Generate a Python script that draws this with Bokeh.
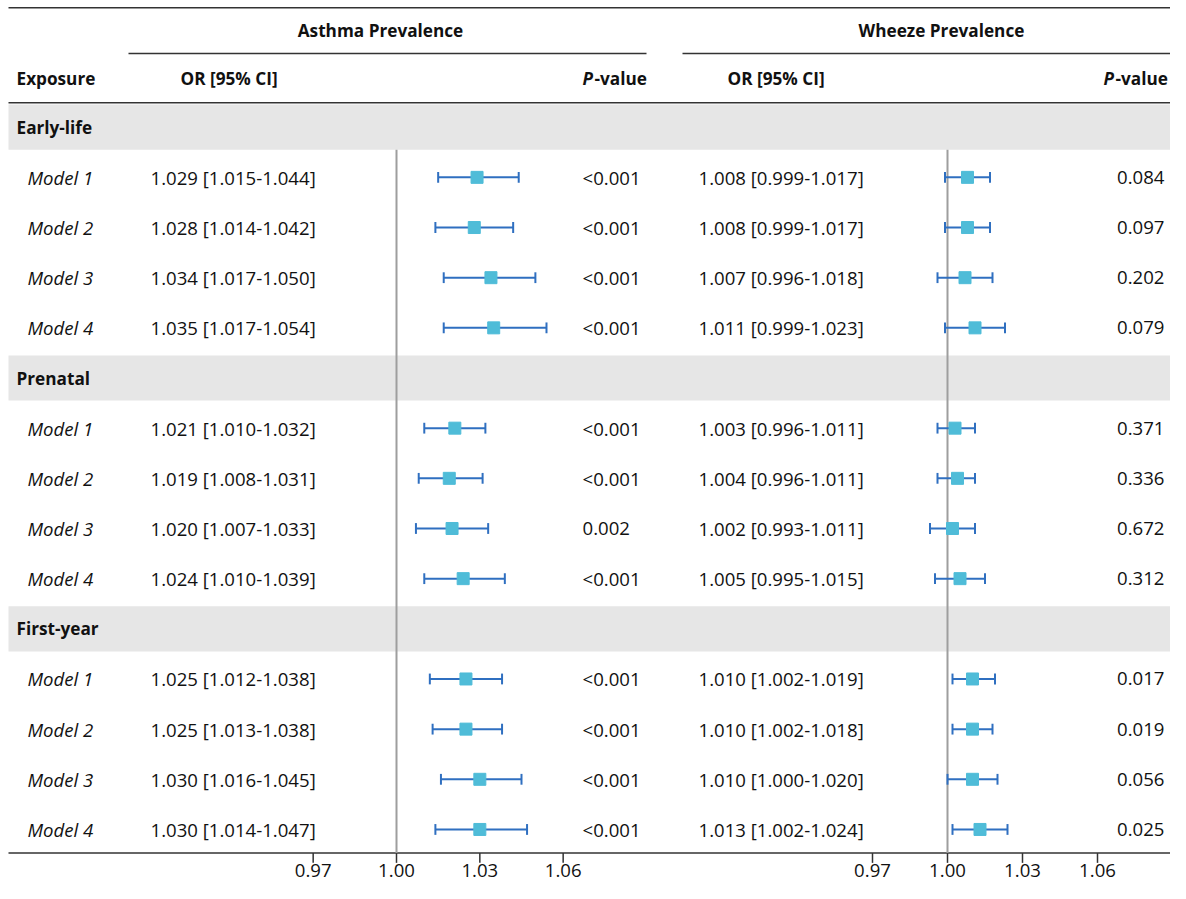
from bokeh.plotting import figure
from bokeh.models import Range1d, ColumnDataSource
from bokeh.core.properties import value
from bokeh.embed import file_html
from bokeh.resources import INLINE

# ---------------- data ----------------
groups = ["Early-life", "Prenatal", "First-year"]
models = ["Model 1", "Model 2", "Model 3", "Model 4"]

asthma_or = [1.029, 1.028, 1.034, 1.035, 1.021, 1.019, 1.020, 1.024, 1.025, 1.025, 1.030, 1.030]
asthma_lo = [1.015, 1.014, 1.017, 1.017, 1.010, 1.008, 1.007, 1.010, 1.012, 1.013, 1.016, 1.014]
asthma_hi = [1.044, 1.042, 1.050, 1.054, 1.032, 1.031, 1.033, 1.039, 1.038, 1.038, 1.045, 1.047]
asthma_p = ["<0.001", "<0.001", "<0.001", "<0.001", "<0.001", "<0.001", "0.002", "<0.001",
            "<0.001", "<0.001", "<0.001", "<0.001"]

wheeze_or = [1.008, 1.008, 1.007, 1.011, 1.003, 1.004, 1.002, 1.005, 1.010, 1.010, 1.010, 1.013]
wheeze_lo = [0.999, 0.999, 0.996, 0.999, 0.996, 0.996, 0.993, 0.995, 1.002, 1.002, 1.000, 1.002]
wheeze_hi = [1.017, 1.017, 1.018, 1.023, 1.011, 1.011, 1.011, 1.015, 1.019, 1.018, 1.020, 1.024]
wheeze_p = ["0.084", "0.097", "0.202", "0.079", "0.371", "0.336", "0.672", "0.312",
            "0.017", "0.019", "0.056", "0.025"]

ref_value = 1.0
tick_values = [0.97, 1.00, 1.03, 1.06]
tick_labels = ["0.97", "1.00", "1.03", "1.06"]

# ---------------- layout ----------------
W, H = 1170, 883
YSPAN = 899.0            # layout units vertically, squeezed into H pixels
FONT = value("Open Sans")
FS = "18.6px"
HFS = "17.2px"
TXT = "#111111"
LINE = "#333333"

p = figure(width=W, height=H, output_backend="svg", toolbar_location=None,
           x_range=Range1d(0, W), y_range=Range1d(YSPAN, 0),
           min_border=0, min_border_left=0, min_border_right=0,
           min_border_top=0, min_border_bottom=0, outline_line_color=None)
p.xaxis.visible = False
p.yaxis.visible = False
p.xgrid.visible = False
p.ygrid.visible = False
p.background_fill_color = "white"
p.border_fill_color = "white"

# panel scales: asthma 1.00 at 396, 0.03 per 83.3 ; wheeze 1.00 at 947, 0.03 per 75
a_k = 83.33 / 0.03
w_k = 75.0 / 0.03
p.extra_x_ranges = {
    "asthma": Range1d(ref_value + (0 - 396) / a_k, ref_value + (W - 396) / a_k),
    "wheeze": Range1d(ref_value + (0 - 947) / w_k, ref_value + (W - 947) / w_k),
}

y0, step = 129.0, 51.07
axis_y = 868.0
x_left, x_right = 8, W

group_y = []
row_y = []
row_lab = []
k = 0
for g in groups:
    group_y.append(y0 + step * k)
    k += 1
    for m in models:
        row_y.append(y0 + step * k)
        row_lab.append(m)
        k += 1

# gray group bands
p.quad(left=x_left, right=x_right, top=[y - 23 for y in group_y], bottom=[y + 23 for y in group_y],
       fill_color="#e6e6e6", line_color=None)

# horizontal rules
p.segment(x0=[x_left, 128, 682, x_left, x_left], x1=[x_right, 646, x_right, x_right, x_right],
          y0=[7.5, 54, 54, 104, axis_y], y1=[7.5, 54, 54, 104, axis_y],
          line_color=LINE, line_width=1.5)

def txt(x, y, s, align="left", style="normal", size=FS):
    p.text(x=x, y=y, text=s, text_font=FONT, text_font_size=size, text_font_style=style,
           text_align=align, text_baseline="middle", text_color=TXT)

# headers
txt([380], [31], ["Asthma Prevalence"], align="center", style="bold", size=HFS)
txt([941], [31], ["Wheeze Prevalence"], align="center", style="bold", size=HFS)
txt([16, 180, 727], [79, 79, 79], ["Exposure", "OR [95% CI]", "OR [95% CI]"], style="bold", size=HFS)
txt([582, 1103], [79, 79], ["P", "P"], style="bold italic", size=HFS)
txt([594, 1115], [79, 79], ["-value", "-value"], style="bold", size=HFS)

# group labels & row labels
txt([16] * 3, group_y, groups, style="bold", size=HFS)
txt([27] * len(row_y), row_y, row_lab, style="italic")

# OR text and p-values
a_txt = [f"{o:.3f} [{l:.3f}-{h:.3f}]" for o, l, h in zip(asthma_or, asthma_lo, asthma_hi)]
w_txt = [f"{o:.3f} [{l:.3f}-{h:.3f}]" for o, l, h in zip(wheeze_or, wheeze_lo, wheeze_hi)]
txt([150] * len(row_y), row_y, a_txt)
txt([582] * len(row_y), row_y, asthma_p)
txt([698] * len(row_y), row_y, w_txt)
txt([1164] * len(row_y), row_y, wheeze_p, align="right")

# forest panels
for name, ors, los, his in (("asthma", asthma_or, asthma_lo, asthma_hi),
                            ("wheeze", wheeze_or, wheeze_lo, wheeze_hi)):
    p.segment(x0=[ref_value], x1=[ref_value], y0=[group_y[0] + 23], y1=[axis_y],
              line_color="#9e9e9e", line_width=2, x_range_name=name)
    src = ColumnDataSource(dict(o=ors, lo=los, hi=his, y=row_y,
                                yt=[y - 5.5 for y in row_y], yb=[y + 5.5 for y in row_y]))
    p.segment(x0="lo", x1="hi", y0="y", y1="y", source=src, line_color="#2f6fc0",
              line_width=2, x_range_name=name)
    p.segment(x0="lo", x1="lo", y0="yt", y1="yb", source=src, line_color="#2f6fc0",
              line_width=2, x_range_name=name)
    p.segment(x0="hi", x1="hi", y0="yt", y1="yb", source=src, line_color="#2f6fc0",
              line_width=2, x_range_name=name)
    p.scatter(x="o", y="y", source=src, marker="square", size=12, fill_color="#4fbcd8",
              line_color="#4fbcd8", x_range_name=name)
    p.segment(x0=tick_values, x1=tick_values, y0=[axis_y] * 4, y1=[axis_y + 10] * 4,
              line_color=LINE, line_width=1.5, x_range_name=name)
    p.text(x=tick_values, y=[axis_y + 18] * 4, text=tick_labels, text_font=FONT,
           text_font_size=FS, text_align="center", text_baseline="middle",
           text_color=TXT, x_range_name=name)

open("out.html", "w").write(file_html(p, INLINE))
